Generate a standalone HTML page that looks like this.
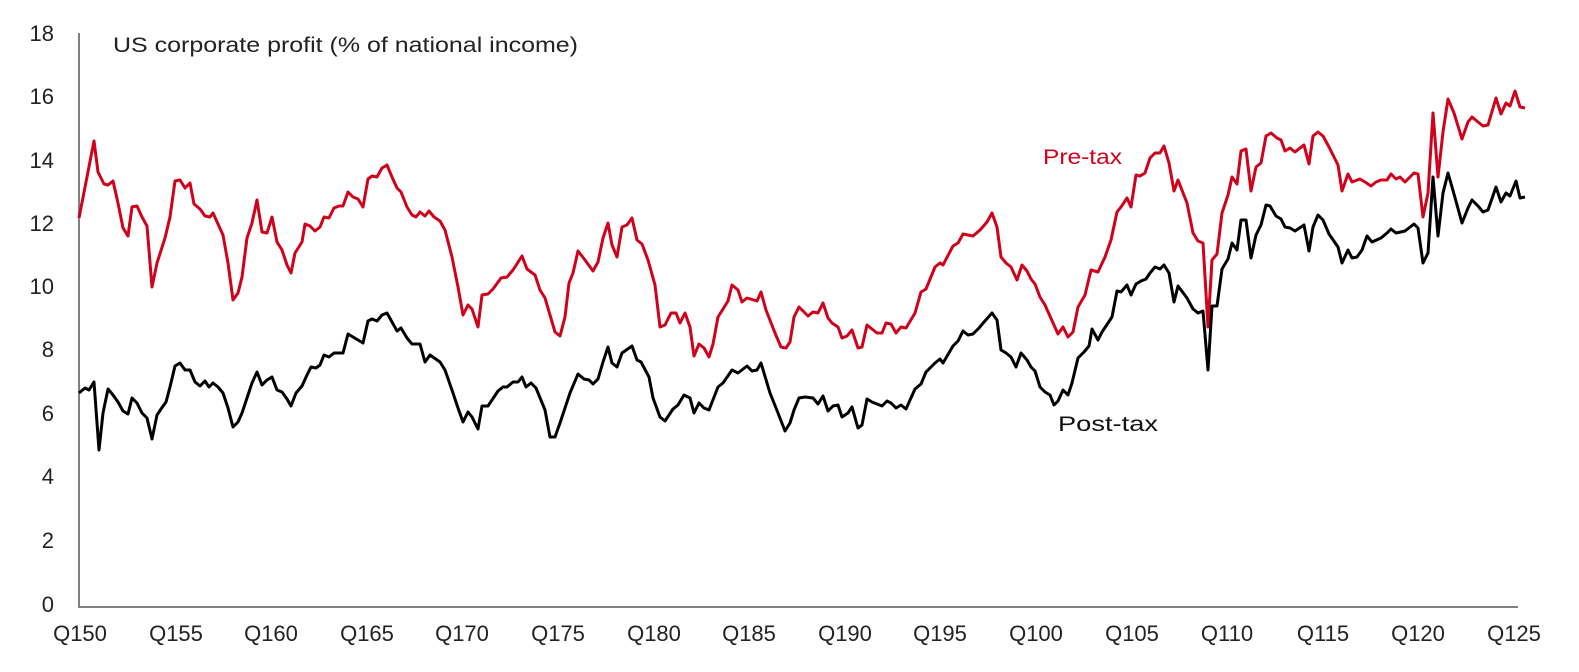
<!DOCTYPE html>
<html><head><meta charset="utf-8"><style>
html,body{margin:0;padding:0;background:#fff;}
svg{display:block;font-family:"Liberation Sans",sans-serif;}
</style></head><body>
<svg width="1579" height="672" viewBox="0 0 1579 672">
<g font-size="22" fill="#222" text-anchor="end">
<text x="54" y="41">18</text><text x="54" y="104">16</text><text x="54" y="168">14</text>
<text x="54" y="231">12</text><text x="54" y="294">10</text><text x="54" y="357">8</text>
<text x="54" y="421">6</text><text x="54" y="484">4</text><text x="54" y="548">2</text>
<text x="54" y="612">0</text>
</g>
<g font-size="22" fill="#222" text-anchor="middle">
<text x="80" y="641">Q150</text><text x="176" y="641">Q155</text><text x="271" y="641">Q160</text>
<text x="367" y="641">Q165</text><text x="462" y="641">Q170</text><text x="558" y="641">Q175</text>
<text x="654" y="641">Q180</text><text x="749" y="641">Q185</text><text x="845" y="641">Q190</text>
<text x="940" y="641">Q195</text><text x="1036" y="641">Q100</text><text x="1132" y="641">Q105</text>
<text x="1227" y="641">Q110</text><text x="1323" y="641">Q115</text><text x="1418" y="641">Q120</text>
<text x="1514" y="641">Q125</text>
</g>
<path d="M79 33 V607 H1518" fill="none" stroke="#808080" stroke-width="2"/>
<text x="113" y="52" font-size="21" fill="#222" textLength="465" lengthAdjust="spacingAndGlyphs">US corporate profit (% of national income)</text>
<text x="1043" y="164" font-size="21" fill="#d0021b" textLength="79" lengthAdjust="spacingAndGlyphs">Pre-tax</text>
<text x="1058" y="431" font-size="21" fill="#111" textLength="100" lengthAdjust="spacingAndGlyphs">Post-tax</text>
<polyline fill="none" stroke="#d0021b" stroke-width="3" stroke-linejoin="round" points="79,218 94,141 98,172 104,184 108,185 113,181 118,203 123,228 128,236 132,207 137,206 142,217 147,226 152,287 157,263 165,238 170,217 175,181 180,180 185,188 190,183 194,204 200,209 205,216 210,217 213,213 218,224 223,235 228,263 233,300 238,293 242,277 247,238 252,223 257,200 262,232 267,233 272,217 277,242 282,250 287,265 291,273 295,253 302,242 305,224 310,226 315,231 320,227 324,217 329,218 334,208 339,206 343,206 348,192 353,197 358,199 363,207 368,179 372,176 377,177 382,168 387,165 392,177 397,188 401,192 407,207 412,215 416,217 420,212 425,216 429,211 434,217 440,221 445,230 452,257 458,287 463,315 468,305 472,309 478,327 482,295 488,294 493,289 501,278 507,277 513,270 522,256 527,269 535,275 540,290 545,298 555,332 560,336 565,317 569,283 573,273 578,251 585,260 593,271 598,262 603,238 608,223 612,245 617,257 622,227 627,225 632,218 637,240 642,244 648,260 655,285 660,327 665,325 671,313 676,313 680,323 685,313 690,327 694,356 699,344 704,348 709,357 713,344 718,317 728,301 732,285 738,290 742,302 747,298 757,301 761,292 766,310 775,333 781,347 786,348 790,342 794,317 799,307 808,316 813,312 818,313 823,303 828,318 832,323 838,327 842,338 847,336 852,330 858,348 862,347 867,325 872,329 877,333 882,333 886,323 891,324 896,333 901,327 906,328 915,313 921,292 926,289 935,267 940,263 943,265 953,246 958,243 963,234 973,236 980,230 987,222 992,213 997,227 1001,257 1006,263 1011,267 1017,280 1022,265 1027,271 1031,279 1035,284 1040,297 1045,305 1058,334 1063,327 1068,337 1073,332 1078,307 1085,295 1091,270 1098,272 1105,257 1111,240 1117,212 1121,207 1127,198 1131,207 1136,175 1140,176 1145,173 1150,158 1155,153 1160,153 1164,146 1169,163 1174,191 1178,180 1187,203 1193,233 1198,241 1203,243 1208,327 1212,260 1217,254 1222,213 1228,195 1232,177 1237,184 1241,151 1246,149 1251,191 1256,167 1261,163 1266,136 1271,133 1277,138 1281,140 1285,151 1290,148 1295,152 1300,148 1304,145 1309,164 1313,136 1318,132 1323,136 1329,147 1338,165 1342,191 1348,174 1352,182 1360,179 1365,182 1371,186 1376,182 1381,180 1387,180 1391,174 1396,179 1400,177 1405,182 1414,173 1418,174 1423,217 1428,193 1433,113 1438,177 1443,132 1448,99 1454,113 1462,139 1468,122 1472,117 1478,122 1483,126 1488,125 1496,98 1501,114 1506,103 1510,106 1515,91 1520,107 1525,108"/>
<polyline fill="none" stroke="#000" stroke-width="3" stroke-linejoin="round" points="79,393 85,388 89,390 94,382 99,450 103,413 108,389 113,395 118,402 123,411 128,414 132,398 137,403 142,413 147,418 152,439 157,415 161,409 166,402 170,387 175,366 180,363 185,370 190,370 195,382 200,386 205,381 209,387 213,383 218,387 223,393 228,408 233,427 238,422 242,413 247,398 252,383 257,372 262,385 267,380 272,377 277,390 282,392 287,399 291,406 296,393 302,386 307,375 311,367 316,368 320,365 324,355 329,357 334,353 343,353 348,334 353,337 363,343 368,321 372,319 377,321 382,315 387,313 392,322 397,331 401,328 407,338 412,344 420,344 425,362 430,355 440,362 445,370 453,393 458,408 463,422 468,412 472,417 478,429 482,406 488,406 498,391 503,387 507,387 513,382 518,382 522,377 526,387 531,383 536,388 545,410 550,437 555,437 560,423 570,393 578,374 584,379 589,380 593,384 598,379 603,362 608,347 612,363 617,367 622,353 632,346 637,360 641,362 649,377 653,398 660,417 665,421 673,409 678,405 684,395 690,398 694,413 699,403 704,408 709,410 718,387 723,383 732,370 738,373 747,366 752,371 757,370 761,363 770,393 778,413 785,431 790,423 794,410 799,398 805,397 813,398 818,404 823,396 828,411 833,406 838,405 842,417 848,413 852,407 858,428 862,425 867,399 872,402 877,404 882,406 887,401 891,403 896,408 901,405 906,409 915,389 921,384 926,372 935,363 940,359 943,363 953,346 958,341 963,331 968,335 973,334 979,328 984,322 992,313 997,320 1001,350 1006,353 1011,357 1016,367 1021,353 1027,360 1031,367 1035,371 1040,387 1045,392 1050,395 1054,405 1058,401 1063,390 1068,395 1072,383 1078,358 1084,352 1089,346 1092,329 1098,340 1102,332 1112,317 1117,291 1121,292 1127,285 1131,295 1136,284 1141,281 1146,279 1150,273 1155,267 1160,269 1164,265 1169,273 1174,302 1178,286 1187,298 1193,309 1198,313 1203,311 1208,370 1212,306 1217,306 1222,269 1228,259 1232,243 1237,250 1241,220 1246,220 1251,258 1256,235 1261,225 1266,205 1270,206 1276,216 1281,219 1285,227 1290,228 1295,231 1304,225 1309,251 1313,227 1318,215 1323,220 1329,234 1338,247 1342,263 1348,250 1352,258 1357,257 1362,250 1367,236 1372,242 1381,238 1387,233 1391,229 1396,233 1405,231 1414,224 1418,228 1423,263 1428,253 1433,177 1438,236 1443,193 1448,173 1454,194 1462,223 1468,208 1472,200 1478,206 1483,212 1488,210 1496,187 1501,202 1506,193 1510,196 1516,181 1520,198 1525,197"/>
</svg>
</body></html>
